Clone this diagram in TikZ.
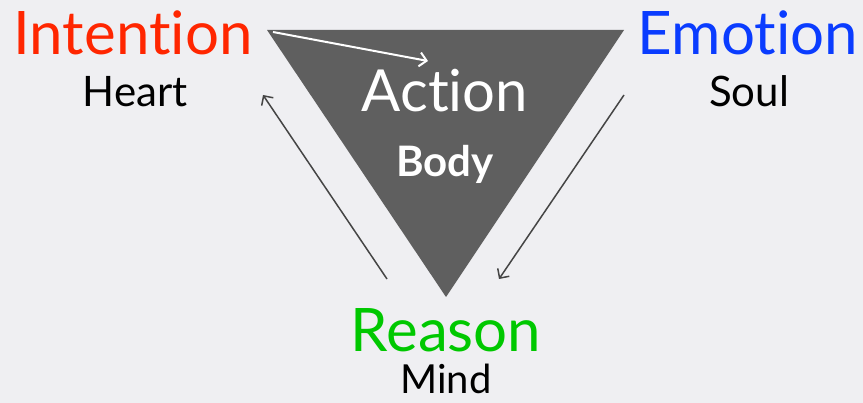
\documentclass[tikz,border=0pt]{standalone}
\usepackage{fontspec}
\setmainfont{Lato}[RawFeature={-liga;-clig;-dlig;-calt;-rlig}]
\usetikzlibrary{arrows.meta}
\definecolor{trBack}{HTML}{EFEFF2}
\definecolor{trSlate}{HTML}{5F5F5F}
\definecolor{trLine}{HTML}{454545}
\definecolor{trRed}{HTML}{FF2600}
\definecolor{trBlue}{HTML}{0A3CFF}
\definecolor{trGreen}{HTML}{00C800}

\begin{document}
\begin{tikzpicture}[
  x=1pt, y=-1pt,
  head/.style={anchor=base, inner sep=0pt, font=\fontsize{60}{60}\selectfont},
  sub/.style={anchor=base, inner sep=0pt, text=black, font=\fontsize{42}{42}\selectfont},
  flow/.style={-{Straight Barb[length=7pt,width=14pt]}, line width=1.5pt, draw=trLine},
  inner/.style={-{Straight Barb[length=7pt,width=14pt]}, line width=2pt, draw=white},
]

% ── Canvas ───────────────────────────────────────────────────────────────────
\fill[trBack] (0,0) rectangle (863,403);
\useasboundingbox (0,0) rectangle (863,403);

% ── Body triangle (points down) ──────────────────────────────────────────────
\coordinate (tl) at (267,30);
\coordinate (tr) at (624,30);
\coordinate (tb) at (446,297);
\fill[trSlate] (tl) -- (tr) -- (tb) -- cycle;

% ── Corner labels ────────────────────────────────────────────────────────────
\node[head, text=trRed]   (intention) at (133,55)  {Intention};
\node[sub]                (heart)     at (135,107) {Heart};
\node[head, text=trBlue]  (emotion)   at (748,55)  {Emotion};
\node[sub]                (soul)      at (749,107) {Soul};
\node[head, text=trGreen] (reason)    at (446,352) {Reason};
\node[sub, font=\fontsize{40}{40}\selectfont] (mind) at (446,394) {Mind};

% ── Centre labels ────────────────────────────────────────────────────────────
\node[head, text=white, font=\fontsize{58}{58}\selectfont] (action) at (445,112) {Action};
\node[sub, text=white, font=\fontsize{42}{42}\selectfont\bfseries] (body) at (445,177) {Body};

% ── Cycle arrows ─────────────────────────────────────────────────────────────
\coordinate (w0) at (273,32);
\coordinate (w1) at (428,61);
\coordinate (r0) at (624,95);
\coordinate (r1) at (499,279);
\coordinate (l0) at (387,279);
\coordinate (l1) at (263,95);
\draw[inner] (w0) -- (w1);
\draw[flow] (r0) -- (r1);
\draw[flow] (l0) -- (l1);

\end{tikzpicture}
\end{document}
